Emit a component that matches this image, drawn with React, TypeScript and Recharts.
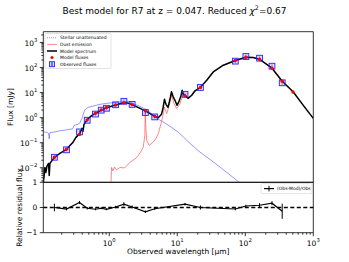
import React from 'react';
import {
  ComposedChart,
  Line,
  Scatter,
  XAxis,
  YAxis,
  ErrorBar,
  ReferenceLine,
  ReferenceArea,
} from 'recharts';

// observed bands (µm) and fluxes (mJy)
const obsWave = [0.156, 0.235, 0.365, 0.474, 0.627, 0.762, 0.91, 1.24, 1.64, 2.17, 3.4, 4.66, 13.0, 21.9, 71.3, 102, 162, 247, 349];
const obsFlux = [0.0263, 0.052, 0.27, 0.79, 1.39, 1.99, 2.37, 3.26, 4.5, 3.38, 1.6, 1.07, 8.56, 16.0, 180, 275, 236, 113, 24.6];

const fitWave = [0.156, 0.235, 0.365, 0.474, 0.627, 0.762, 0.91, 1.24, 1.64, 2.17, 3.4, 4.66, 13.0, 21.9, 71.3, 102, 162, 247, 349, 503];
const fitFlux = [0.0263, 0.055, 0.215, 0.817, 1.49, 2.05, 2.54, 3.19, 3.91, 3.31, 1.87, 1.13, 7.45, 16.0, 191, 258, 215, 93.8, 28.3, 10.6];

const residual = [0.0, -0.06, 0.2, -0.03, -0.07, -0.03, -0.07, 0.02, 0.13, 0.02, -0.17, -0.05, 0.13, 0.0, -0.06, 0.06, 0.09, 0.17, -0.15];
const residualErr = [0.15, 0.05, 0.06, 0.05, 0.04, 0.04, 0.04, 0.05, 0.08, 0.06, 0.05, 0.05, 0.05, 0.08, 0.05, 0.05, 0.08, 0.08, 0.3];

const stellarWave = [0.107, 0.121, 0.128, 0.131, 0.134, 0.159, 0.188, 0.236, 0.29, 0.303, 0.347, 0.371, 0.403, 0.432, 0.486, 0.596, 0.73, 0.925, 1.28, 1.59, 1.9, 2.23, 2.83, 3.43, 3.97, 4.98, 6.22, 7.81, 10.3, 15.4, 21.6, 30.3, 42.5, 59.6, 83.6];
const stellarFlux = [0.27, 0.26, 0.235, 0.142, 0.25, 0.27, 0.3, 0.325, 0.36, 0.49, 0.54, 0.62, 1.03, 1.96, 2.58, 2.96, 3.4, 3.73, 4.1, 4.3, 4.5, 3.63, 2.83, 2.15, 1.63, 0.94, 0.67, 0.45, 0.265, 0.094, 0.042, 0.0215, 0.0106, 0.00515, 0.00247];

const dustWave = [1.06, 1.08, 1.13, 1.19, 1.28, 1.44, 1.68, 2.01, 2.39, 2.67, 2.92, 3.16, 3.33, 3.38, 3.44, 3.55, 3.87, 4.44, 4.86, 5.26, 5.76, 6.1, 6.44, 6.98, 7.63, 8.27, 8.94, 9.8, 11.0, 11.6, 12.1, 13.0, 14.4, 16.3, 18.2, 21.9, 27.1, 33.8, 47.5, 71.3, 102, 131, 161, 247, 347, 508, 713, 1000];
const dustFlux = [0.00236, 0.0103, 0.00745, 0.0108, 0.00817, 0.0103, 0.00982, 0.0163, 0.0225, 0.031, 0.0449, 0.0667, 0.196, 1.87, 0.492, 0.124, 0.078, 0.106, 0.149, 0.229, 0.575, 1.06, 2.65, 1.45, 3.1, 7.8, 3.63, 2.29, 3.63, 5.75, 7.11, 7.4, 5.7, 7.6, 11.6, 16.0, 30.5, 66, 123, 190, 257, 250, 214, 93.5, 29, 10.5, 3.1, 0.93];

const modelWave = [0.107, 0.11, 0.113, 0.117, 0.121, 0.128, 0.131, 0.134, 0.144, 0.156, 0.188, 0.235, 0.264, 0.292, 0.324, 0.365, 0.397, 0.41, 0.425, 0.454, 0.494, 0.557, 0.627, 0.755, 0.91, 1.24, 1.64, 1.88, 2.17, 2.64, 3.4, 3.97, 4.66, 5.26, 5.86, 6.16, 6.48, 6.82, 7.3, 7.81, 8.22, 8.65, 9.25, 9.9, 10.6, 11.3, 11.8, 12.3, 13.0, 14.4, 16.3, 18.2, 21.9, 27.1, 33.8, 47.5, 71.3, 102, 131, 161, 247, 347, 508, 713, 1000];
const modelSpec = [0.00251, 0.00449, 0.0103, 0.00649, 0.0113, 0.0149, 0.00492, 0.0149, 0.0196, 0.0258, 0.0373, 0.054, 0.078, 0.103, 0.163, 0.225, 0.373, 0.283, 0.54, 0.711, 0.938, 1.24, 1.49, 1.96, 2.47, 3.19, 3.91, 3.8, 3.31, 2.58, 1.87, 1.45, 1.13, 1.0, 1.36, 2.35, 5.4, 3.4, 2.58, 5.4, 10.8, 7.11, 4.92, 3.1, 4.49, 7.11, 12.4, 8.55, 7.59, 5.92, 7.8, 11.8, 16.3, 31.0, 66.7, 124, 191, 258, 251, 215, 93.8, 29.1, 10.6, 3.1, 0.938];

const W = 349;
const H = 262;
const LEFT = 43.3;
const RIGHT = 313.3;
const MAIN_TOP = 31.7;
const MAIN_BOTTOM = 182.3;
const RES_BOTTOM = 232.7;
const X_DOMAIN: [number, number] = [-0.97, 3];
const Y_DOMAIN: [number, number] = [-2.58, 3.43];
const FONT = 'DejaVu Sans, sans-serif';

const toLog = (w: number[], f: number[]) => w.map((v, i) => ({ lx: Math.log10(v), ly: Math.log10(f[i]) }));

const stellarData = toLog(stellarWave, stellarFlux);
const dustData = toLog(dustWave, dustFlux);
const modelData = toLog(modelWave, modelSpec);
const obsData = toLog(obsWave, obsFlux);
const fitData = toLog(fitWave, fitFlux);
const resData = obsWave.map((w, i) => ({ lx: Math.log10(w), r: residual[i], e: residualErr[i] }));

function logTicks(lo: number, hi: number) {
  const out: number[] = [];
  for (let n = -4; n <= 4; n++) {
    for (let k = 1; k <= 9; k++) {
      const v = n + Math.log10(k);
      if (v >= lo - 1e-9 && v <= hi + 1e-9) out.push(v);
    }
  }
  return out;
}

const isMajor = (v: number) => Math.abs(v - Math.round(v)) < 1e-6;
const expText = (n: number) => (n < 0 ? '\u2212' + Math.abs(n) : String(n));

const MainYTick = (props: any) => {
  const { y, payload } = props;
  const v = payload.value;
  const major = isMajor(v);
  const len = major ? 3.5 : 2;
  return (
    <g>
      <line x1={LEFT - len} x2={LEFT} y1={y} y2={y} stroke="#000" strokeWidth={0.8} />
      {major && (
        <text x={LEFT - 6} y={y + 3.6} textAnchor="end" fontSize={7.5} fontFamily={FONT} fill="#000">
          10<tspan fontSize={5.3} dy={-4}>{expText(Math.round(v))}</tspan>
        </text>
      )}
    </g>
  );
};

const ResXTick = (props: any) => {
  const { x, payload } = props;
  const v = payload.value;
  const major = isMajor(v);
  const len = major ? 3.5 : 2;
  return (
    <g>
      <line x1={x} x2={x} y1={RES_BOTTOM} y2={RES_BOTTOM + len} stroke="#000" strokeWidth={0.8} />
      {major && (
        <text x={x} y={RES_BOTTOM + 13.3} textAnchor="middle" fontSize={7.5} fontFamily={FONT} fill="#000">
          10<tspan fontSize={5.3} dy={-4}>{expText(Math.round(v))}</tspan>
        </text>
      )}
    </g>
  );
};

const ResYTick = (props: any) => {
  const { y, payload } = props;
  return (
    <g>
      <line x1={LEFT - 3.5} x2={LEFT} y1={y} y2={y} stroke="#000" strokeWidth={0.8} />
      <text x={LEFT - 6} y={y + 2.7} textAnchor="end" fontSize={7.5} fontFamily={FONT} fill="#000">
        {payload.value < 0 ? '\u2212' + Math.abs(payload.value) : payload.value}
      </text>
    </g>
  );
};

const ObsSquare = (props: any) => {
  const { cx, cy } = props;
  if (cx == null || cy == null) return null;
  return (
    <g>
      <rect x={cx - 2.9} y={cy - 2.9} width={5.8} height={5.8} fill="rgba(90,90,255,0.22)" stroke="#2222ff" strokeWidth={0.9} />
      <line x1={cx} x2={cx} y1={cy - 1.8} y2={cy + 1.8} stroke="#2222ff" strokeWidth={0.5} />
    </g>
  );
};

const FitDot = (props: any) => {
  const { cx, cy } = props;
  if (cx == null || cy == null) return null;
  return <circle cx={cx} cy={cy} r={1.7} fill="#ff0000" />;
};

const legendRows = ['Stellar unattenuated', 'Dust emission', 'Model spectrum', 'Model fluxes', 'Observed fluxes'];

function Overlay() {
  const lx = 46;
  const ty = 33.5;
  return (
    <svg width={W} height={H} style={{ position: 'absolute', left: 0, top: 0 }} fontFamily={FONT}>
      <text x={174.5} y={13.6} textAnchor="middle" fontSize={9} fill="#000">
        Best model for R7 at z = 0.047. Reduced <tspan fontStyle="italic">χ</tspan>
        <tspan fontSize={6.3} dy={-3.5}>2</tspan>
        <tspan dy={3.5}>=0.67</tspan>
      </text>
      <text transform={`translate(13,${(MAIN_TOP + MAIN_BOTTOM) / 2}) rotate(-90)`} textAnchor="middle" fontSize={7.5} fill="#000">
        Flux [mJy]
      </text>
      <text transform={`translate(21.5,${(MAIN_BOTTOM + RES_BOTTOM) / 2}) rotate(-90)`} textAnchor="middle" fontSize={7.5} fill="#000">
        Relative residual flux
      </text>
      <text x={(LEFT + RIGHT) / 2} y={253.5} textAnchor="middle" fontSize={7.5} fill="#000">
        Observed wavelength [µm]
      </text>

      <rect x={lx - 1} y={ty} width={66} height={35} rx={1.5} fill="rgba(255,255,255,0.8)" stroke="#d0d0d0" strokeWidth={0.6} />
      {legendRows.map((t, i) => {
        const y = ty + 4.3 + i * 6.6;
        return (
          <g key={t}>
            {i === 0 && <line x1={lx + 1} x2={lx + 11} y1={y} y2={y} stroke="#5a5aff" strokeWidth={0.7} strokeDasharray="1 1" />}
            {i === 1 && <line x1={lx + 1} x2={lx + 11} y1={y} y2={y} stroke="#ff6a6a" strokeWidth={0.8} />}
            {i === 2 && <line x1={lx + 1} x2={lx + 11} y1={y} y2={y} stroke="#000" strokeWidth={1.5} />}
            {i === 3 && <circle cx={lx + 6} cy={y} r={1.5} fill="#ff0000" />}
            {i === 4 && (
              <g>
                <rect x={lx + 3.5} y={y - 2.5} width={5} height={5} fill="rgba(90,90,255,0.22)" stroke="#2222ff" strokeWidth={0.9} />
                <line x1={lx + 5.5} x2={lx + 5.5} y1={y - 2} y2={y + 2} stroke="#2222ff" strokeWidth={0.6} />
                <line x1={lx + 6.5} x2={lx + 6.5} y1={y - 2} y2={y + 2} stroke="#2222ff" strokeWidth={0.6} />
              </g>
            )}
            <text x={lx + 14} y={y + 1.6} fontSize={4.5} fill="#000">
              {t}
            </text>
          </g>
        );
      })}

      <rect x={261} y={183.6} width={51} height={10} rx={1.5} fill="rgba(255,255,255,0.8)" stroke="#d0d0d0" strokeWidth={0.6} />
      <line x1={264} x2={274} y1={188.6} y2={188.6} stroke="#000" strokeWidth={1.2} />
      <line x1={269} x2={269} y1={185.8} y2={191.4} stroke="#000" strokeWidth={1} />
      <text x={277} y={190.2} fontSize={4.5} fill="#000">
        (Obs-Mod)/Obs
      </text>
    </svg>
  );
}

export default function App() {
  const mainYTicks = logTicks(Y_DOMAIN[0], Y_DOMAIN[1]);
  const xTicks = logTicks(X_DOMAIN[0], X_DOMAIN[1]);
  return (
    <div style={{ position: 'absolute', left: 0, top: 0, width: W, height: H, background: '#fff', fontFamily: FONT }}>
      <div style={{ position: 'absolute', left: 0, top: 0 }}>
        <ComposedChart width={W} height={H} margin={{ top: MAIN_TOP, right: W - RIGHT, bottom: 0, left: 0 }}>
          <XAxis dataKey="lx" type="number" domain={X_DOMAIN} allowDataOverflow height={H - MAIN_BOTTOM} tick={false} tickLine={false} axisLine={false} />
          <YAxis
            dataKey="ly"
            type="number"
            domain={Y_DOMAIN}
            allowDataOverflow
            width={LEFT}
            ticks={mainYTicks}
            interval={0}
            tick={<MainYTick />}
            tickLine={false}
            axisLine={false}
          />
          <Line data={stellarData} dataKey="ly" stroke="#5a5aff" strokeOpacity={0.9} strokeWidth={0.7} dot={false} isAnimationActive={false} />
          <Line data={dustData} dataKey="ly" stroke="#ff5a5a" strokeOpacity={0.9} strokeWidth={0.8} dot={false} isAnimationActive={false} />
          <Line data={modelData} dataKey="ly" stroke="#000" strokeWidth={1.5} strokeLinejoin="round" dot={false} isAnimationActive={false} />
          <Scatter data={obsData} dataKey="ly" shape={<ObsSquare />} isAnimationActive={false} />
          <Scatter data={fitData} dataKey="ly" shape={<FitDot />} isAnimationActive={false} />
          <ReferenceArea x1={X_DOMAIN[0]} x2={X_DOMAIN[1]} y1={Y_DOMAIN[0]} y2={Y_DOMAIN[1]} fill="none" stroke="#000" strokeWidth={0.8} />
        </ComposedChart>
      </div>
      <div style={{ position: 'absolute', left: 0, top: 0 }}>
        <ComposedChart width={W} height={H} margin={{ top: MAIN_BOTTOM, right: W - RIGHT, bottom: 0, left: 0 }}>
          <XAxis
            dataKey="lx"
            type="number"
            domain={X_DOMAIN}
            allowDataOverflow
            height={H - RES_BOTTOM}
            ticks={xTicks}
            interval={0}
            tick={<ResXTick />}
            tickLine={false}
            axisLine={false}
          />
          <YAxis dataKey="r" type="number" domain={[-1, 1]} allowDataOverflow width={LEFT} ticks={[-1, 0, 1]} interval={0} tick={<ResYTick />} tickLine={false} axisLine={false} />
          <ReferenceLine y={0} stroke="#000" strokeWidth={1.3} strokeDasharray="4 2.5" />
          <Line data={resData} dataKey="r" stroke="#000" strokeWidth={1.2} dot={false} isAnimationActive={false}>
            <ErrorBar dataKey="e" direction="y" width={0} stroke="#000" strokeWidth={1} />
          </Line>
          <ReferenceArea x1={X_DOMAIN[0]} x2={X_DOMAIN[1]} y1={-1} y2={1} fill="none" stroke="#000" strokeWidth={0.8} />
        </ComposedChart>
      </div>
      <Overlay />
    </div>
  );
}
